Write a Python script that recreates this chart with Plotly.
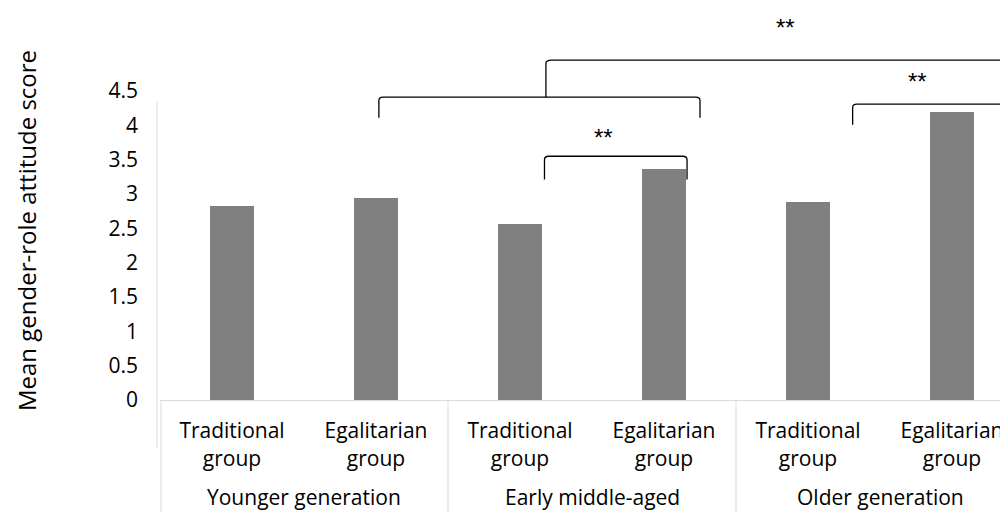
import plotly.graph_objects as go

# ---- data ----
groups = ["Younger generation", "Early middle-aged", "Older generation"]
subgroups = ["Traditional group", "Egalitarian group"]
values = [2.83, 2.94, 2.57, 3.36, 2.88, 4.19]
y_title = "Mean gender-role attitude score"
y_ticks = [0, 0.5, 1, 1.5, 2, 2.5, 3, 3.5, 4, 4.5]
y_ticktext = ["0", "0.5", "1", "1.5", "2", "2.5", "3", "3.5", "4", "4.5"]
sig_label = "**"

# bar order: each group x each subgroup
cat_labels = [s.replace(" ", "<br>") for g in groups for s in subgroups]
xpos = list(range(len(cat_labels)))

FONT = "Open Sans"
TXT = "#000000"
AXC = "#d9d9d9"
YMAX = 4.5

fig = go.Figure()
fig.add_trace(go.Bar(
    x=xpos, y=values, width=0.31,
    marker=dict(color="#808080", line=dict(width=0)),
    showlegend=False, hoverinfo="y",
))

# page body has an 8px margin, so the figure is 8px smaller and shifted
W, H = 1000, 504
ML, MR, MT, MB = 152, 0, 83, 112
plot_w = W - ML - MR
cat_px = 144.0

fig.update_layout(
    width=W, height=H,
    margin=dict(l=ML, r=MR, t=MT, b=MB, pad=0),
    plot_bgcolor="white", paper_bgcolor="white",
    font=dict(family=FONT, size=21, color=TXT),
    bargap=0,
)
fig.update_xaxes(
    range=[-0.5, -0.5 + plot_w / cat_px],
    tickvals=xpos, ticktext=cat_labels,
    showline=True, linecolor=AXC, linewidth=1,
    showgrid=False, zeroline=False, ticks="",
    tickfont=dict(family=FONT, size=21, color=TXT),
    ticklabelstandoff=12,
)
fig.update_yaxes(
    range=[0, YMAX], tickvals=y_ticks, ticktext=y_ticktext,
    showgrid=False, zeroline=False, showline=False, ticks="",
    tickfont=dict(family=FONT, size=21, color=TXT),
    ticklabelstandoff=21,
)

def py(v):
    """data value -> paper y"""
    return v / YMAX

shapes = []
# y-axis line (slightly left of plot, extending into label area)
shapes.append(dict(type="line", xref="paper", yref="paper",
                   x0=-3 / plot_w, x1=-3 / plot_w, y0=py(4.35), y1=py(-0.7),
                   line=dict(color=AXC, width=1)))
# group dividers in label area
div_bottom = py(-1.65)
shapes.append(dict(type="line", xref="paper", yref="paper",
                   x0=1 / plot_w, x1=1 / plot_w, y0=0, y1=div_bottom,
                   line=dict(color=AXC, width=1)))
for gi in range(1, len(groups)):
    xd = gi * len(subgroups) - 0.5
    shapes.append(dict(type="line", xref="x", yref="paper",
                       x0=xd, x1=xd, y0=0, y1=div_bottom,
                       line=dict(color=AXC, width=1)))

# significance brackets: (x_left, x_right, y_top, y_end)
def bracket(x0, x1, ytop, yend, r=0.05):
    a, b, t, e = x0, x1, py(ytop), py(yend)
    c = py(ytop - r)
    path = (f"M {a},{e} L {a},{c} Q {a},{t} {a + 0.03},{t} "
            f"L {b - 0.03},{t} Q {b},{t} {b},{c} L {b},{e}")
    return dict(type="path", xref="x", yref="paper", path=path,
                line=dict(color="#000000", width=1.3))

shapes.append(bracket(1.02, 3.25, 4.41, 4.11))   # younger vs early-middle (egalitarian)
shapes.append(bracket(2.17, 3.16, 3.55, 3.21))   # early-middle trad vs egal
shapes.append(bracket(4.31, 5.375, 4.31, 4.01))  # older trad vs egal
# higher-level bracket from the middle of the first bracket to the right
stem_x = 2.18
shapes.append(dict(type="path", xref="x", yref="paper",
                   path=(f"M {stem_x},{py(4.41)} L {stem_x},{py(4.90)} "
                         f"Q {stem_x},{py(4.95)} {stem_x + 0.04},{py(4.95)} "
                         f"L 5.6,{py(4.95)}"),
                   line=dict(color="#000000", width=1.3)))
fig.update_layout(shapes=shapes)

ann = []
# group labels
for gi, g in enumerate(groups):
    ann.append(dict(x=gi * len(subgroups) + 0.5, y=py(-1.41), xref="x", yref="paper",
                    text=g, showarrow=False, xanchor="center", yanchor="middle",
                    font=dict(family=FONT, size=21, color=TXT)))
# significance stars
for xs, ys in [(3.845, 5.43), (2.58, 3.83), (4.76, 4.64)]:
    ann.append(dict(x=xs, y=py(ys), xref="x", yref="paper", text=sig_label,
                    showarrow=False, xanchor="center", yanchor="middle",
                    font=dict(family="Liberation Sans", size=24, color=TXT)))
# y-axis title
ann.append(dict(x=-134 / plot_w, y=py(2.46), xref="paper", yref="paper",
                text=y_title, textangle=-90, showarrow=False,
                xanchor="center", yanchor="middle",
                font=dict(family=FONT, size=24, color=TXT)))
fig.update_layout(annotations=ann)

fig.write_html("out.html")
